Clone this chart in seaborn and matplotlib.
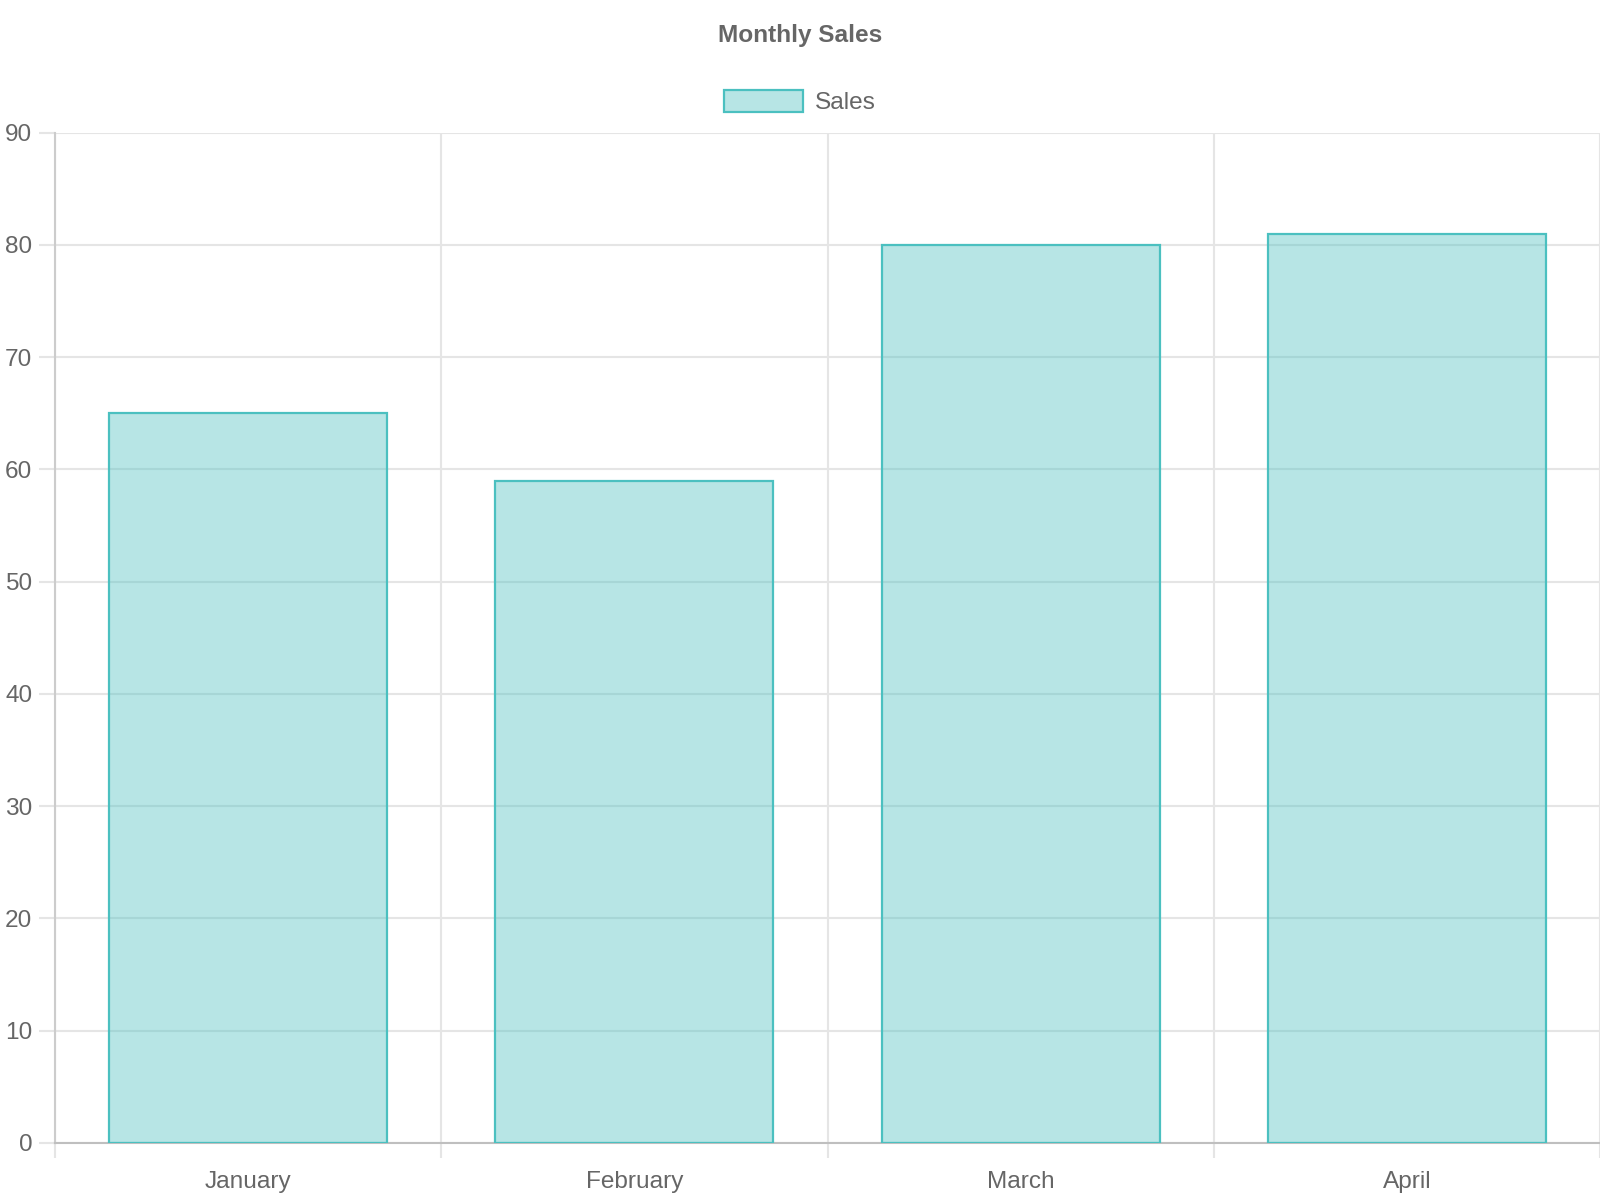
import matplotlib
matplotlib.use("Agg")
import matplotlib.pyplot as plt
from matplotlib.patches import Patch
import seaborn as sns
import pandas as pd

months = ["January", "February", "March", "April"]
sales = [65, 59, 80, 81]
y_ticks = list(range(0, 100, 10))
title = "Monthly Sales"
series_label = "Sales"

edge_col = (75/255, 192/255, 192/255)
fill_col = (75/255, 192/255, 192/255, 0.4)
grid_col = "#e5e5e5"
text_col = "#666666"

sns.set_theme(style="white")
plt.rcParams["font.family"] = ["Liberation Sans", "DejaVu Sans"]

df = pd.DataFrame({"month": months, "sales": sales})

W, H = 1568, 1176
fig = plt.figure(figsize=(16, 12), dpi=100)
left = 54 / W
bottom = (H - 1120) / H
top = (H - 130) / H
ax = fig.add_axes([left, bottom, 1 - left, top - bottom])

sns.barplot(data=df, x="month", y="sales", color=edge_col, width=0.72,
            edgecolor=edge_col, linewidth=1.6, ax=ax, zorder=3)
for p in ax.patches:
    p.set_facecolor(fill_col)

fs = 17.6
ax.set_xlim(-0.5, len(months) - 0.5)
ax.set_ylim(0, 90)
ax.set_yticks(y_ticks)
ax.set_xticks(range(len(months)))
ax.set_xticklabels(months)
ax.set_xticks([i - 0.5 for i in range(len(months) + 1)], minor=True)
ax.set_xlabel("")
ax.set_ylabel("")

ax.set_axisbelow(True)
ax.grid(False)
ax.yaxis.grid(True, color=grid_col, linewidth=1.5)
ax.xaxis.grid(True, which="minor", color=grid_col, linewidth=1.5)

ax.tick_params(axis="x", which="major", length=0, pad=20, labelsize=fs, labelcolor=text_col)
ax.tick_params(axis="x", which="minor", length=11, width=1.5, color=grid_col, bottom=True)
ax.tick_params(axis="y", length=11.5, width=1.5, color=grid_col, pad=5, labelsize=fs,
               labelcolor=text_col, left=True)

for s in ["top", "right"]:
    ax.spines[s].set_visible(False)
ax.spines["left"].set_color("#cccccc")
ax.spines["left"].set_linewidth(1.5)
ax.spines["bottom"].set_color("#bfbfbf")
ax.spines["bottom"].set_linewidth(1.5)

fig.text(0.5, 1 - 35 / H, title, ha="center", va="center", fontsize=fs,
         fontweight="bold", color=text_col)

handle = Patch(facecolor=fill_col, edgecolor=edge_col, linewidth=1.6, label=series_label)
fig.legend(handles=[handle], loc="center", bbox_to_anchor=(0.5, 1 - 100 / H),
           frameon=False, fontsize=fs, handlelength=3.25, handleheight=1.0,
           handletextpad=0.5, labelcolor=text_col)

fig.savefig("out.png", dpi=100)
